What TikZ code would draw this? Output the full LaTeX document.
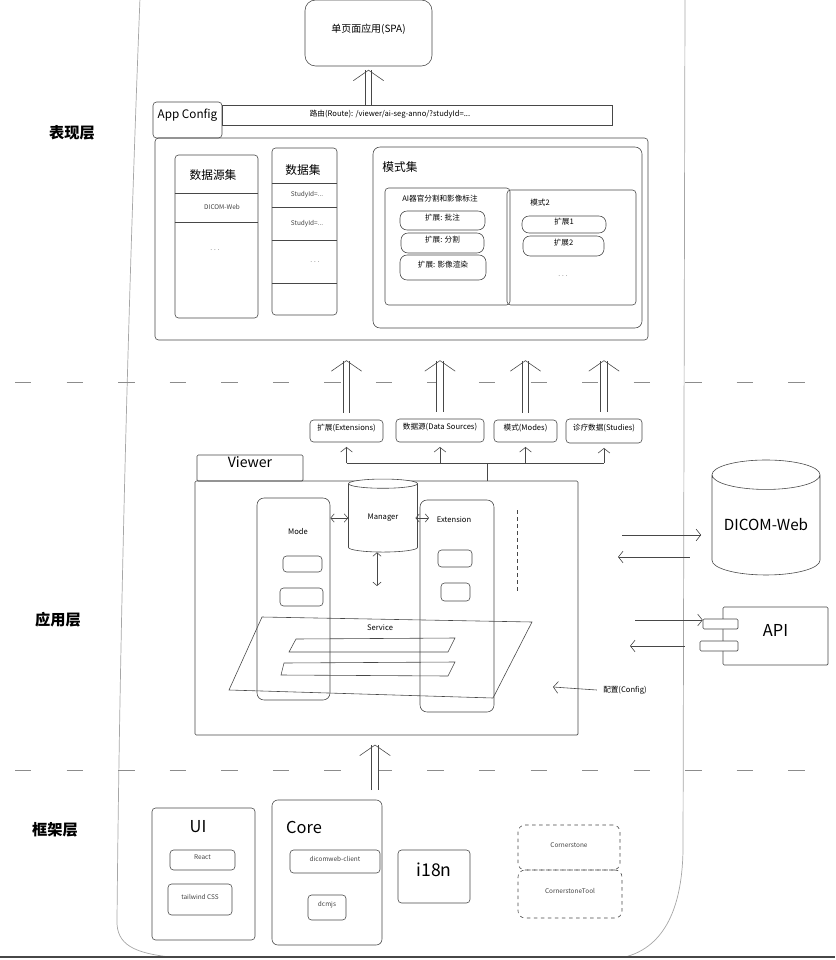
\documentclass[tikz,border=0pt]{standalone}
\usepackage{fontspec}
\setmainfont{Noto Sans CJK SC}
\usetikzlibrary{arrows.meta,positioning,shapes.geometric,fit,calc}

\begin{document}
\begin{tikzpicture}[
		x=0.03cm, y=-0.03cm,
		ln/.style = {draw=black!72, line width=0.5pt},
		frame/.style = {draw=black!35, line width=0.6pt},
		band/.style = {draw=black!45, line width=0.6pt, dash pattern=on 14pt off 30pt},
		box/.style = {ln, rounded corners=3pt, inner sep=0pt},
		pill/.style = {box, rounded corners=6pt},
		dbox/.style = {box, rounded corners=6pt, dashed},
		arr/.style = {ln, -{Straight Barb[length=4pt,width=10pt]}},
		arrs/.style = {ln, {Straight Barb[length=3pt,width=7pt]}-{Straight Barb[length=3pt,width=7pt]}},
		hollow/.style = {draw=black!72, line width=0.5pt, double=white, double distance=5pt, -{Straight Barb[length=9pt,width=26pt,line width=0.5pt]}},
		layertx/.style = {font=\bfseries\fontsize{13}{15}\selectfont},
		ttltx/.style = {font=\fontsize{10}{12}\selectfont},
		lbl/.style = {font=\fontsize{6.5}{8}\selectfont},
		note/.style = {font=\fontsize{5.5}{7}\selectfont, text=black!75},
		bigtx/.style = {font=\fontsize{14}{16}\selectfont},
	]
	\useasboundingbox (0,0) rectangle (835,960);

	\draw[frame] (140,-2) .. controls (130,250) and (120,600) .. (117,920) .. controls (116,945) and (135,953) .. (170,957);
	\draw[frame] (685,-2) -- (683,850) .. controls (682,915) and (660,948) .. (625,957);
	\draw[band] (15,382) -- (835,382);
	\draw[band] (15,770) -- (835,770);
	\draw[ln, line width=1.2pt] (0,957) -- (835,957);

	\node[layertx] (lpres) at (72,133) {表现层};
	\node[layertx] (lapp) at (58,620) {应用层};
	\node[layertx] (lfw) at (55,830) {框架层};

	% presentation
	\node[box, rounded corners=9pt, fit={(305,0)(432,66)}, font=\fontsize{8.5}{10}\selectfont] (spa) {单页面应用(SPA)};
	\node[box, fit={(153,102)(222,138)}, ttltx] (appcfg) {App Config};
	\node[box, rounded corners=0pt, fit={(222,105)(612,125)}] (route) {};
	\node[lbl] (routetx) at (390,114) {路由(Route): /viewer/ai-seg-anno/?studyId=...};
	\draw[hollow, shorten >=3pt] (route.north -| spa.south) -- (spa.south);
	\node[box, fit={(155,138)(648,340)}] (cfg) {};

	\node[box, fit={(175,155)(258,318)}] (dsrc) {};
	\node[ttltx] at (213,175) {数据源集};
	\foreach \yy in {193,222}
		\draw[ln] (dsrc.west |- 0,\yy) -- (dsrc.east |- 0,\yy);
	\node[note] at (222,207) {DICOM-Web};
	\node[note] at (215,250) {. . .};

	\node[box, fit={(272,148)(337,315)}] (dset) {};
	\node[ttltx] at (303,170) {数据集};
	\foreach \yy in {183,207,240,283}
		\draw[ln] (dset.west |- 0,\yy) -- (dset.east |- 0,\yy);
	\node[note] at (307,195) {StudyId=...};
	\node[note] at (307,224) {StudyId=...};
	\node[note] at (315,262) {. . .};

	\node[box, rounded corners=6pt, fit={(373,147)(642,328)}] (modes) {};
	\node[ttltx] at (400,167) {模式集};
	\node[box, fit={(385,188)(510,305)}] (modeA) {};
	\node[lbl] at (440,199) {AI器官分割和影像标注};
	\node[pill, fit={(400,211)(485,230)}, lbl] (extA1) {扩展: 批注};
	\node[pill, fit={(401,233)(484,253)}, lbl] (extA2) {扩展: 分割};
	\node[pill, fit={(400,255)(486,280)}, lbl] (extA3) {扩展: 影像渲染};
	\node[box, fit={(507,190)(636,305)}] (modeB) {};
	\node[lbl] at (540,203) {模式2};
	\node[pill, fit={(522,216)(606,233)}, lbl] (extB1) {扩展1};
	\node[pill, fit={(523,236)(604,256)}, lbl] (extB2) {扩展2};
	\node[note] at (563,276) {. . .};

	\node[box, fit={(310,420)(383,442)}, lbl] (lext) {扩展(Extensions)};
	\node[box, fit={(396,419)(484,442)}, lbl] (lsrc) {数据源(Data Sources)};
	\node[box, fit={(494,420)(557,442)}, lbl] (lmod) {模式(Modes)};
	\node[box, fit={(566,419)(642,443)}, lbl] (lstu) {诊疗数据(Studies)};
	\foreach \n in {lext,lsrc,lmod,lstu}
		\draw[hollow] ([yshift=6pt]\n.north) -- ($(\n.north |- cfg.south)+(0,20)$);

	% application
	\node[box, rounded corners=1pt, fit={(197,455)(303,481)}, font=\fontsize{12}{14}\selectfont] (viewertab) {Viewer};
	\node[box, rounded corners=1pt, fit={(195,481)(578,735)}] (viewer) {};

	\coordinate (busJ) at (487,463);
	\draw[ln] (lext.south |- busJ) -- (lstu.south |- busJ);
	\foreach \n in {lext,lsrc,lmod,lstu}
		\draw[arr] (\n.south |- busJ) -- ([yshift=-4pt]\n.south);
	\draw[ln] (busJ) -- (busJ |- viewer.north);

	\node[box, rounded corners=6pt, fit={(257,498)(330,700)}] (mode) {};
	\node[lbl] at (298,532) {Mode};
	\node[box, fit={(283,556)(322,572)}] (modeS1) {};
	\node[box, fit={(280,588)(323,606)}] (modeS2) {};
	\node[box, rounded corners=6pt, fit={(420,500)(494,712)}] (ext) {};
	\node[lbl] at (454,520) {Extension};
	\node[box, fit={(438,550)(472,567)}] (extS1) {};
	\node[box, fit={(441,583)(470,601)}] (extS2) {};
	\node[cylinder, shape border rotate=90, aspect=0.3, ln, fill=white, inner sep=0pt,
		minimum width=2.07cm, minimum height=2.19cm, lbl] (mgr) at (383,518) {Manager};
	\draw[arrs] (mgr.west -| mode.east) -- (mgr.west);
	\draw[arrs] ([xshift=-2pt]mgr.east) -- ([xshift=8pt]mgr.east -| ext.west);
	\coordinate (svclink) at (377,586);
	\draw[arrs] (mgr.south -| svclink) -- (svclink);

	\draw[ln] (262,617) -- (532,622) -- (493,698) -- (229,690) -- cycle;
	\node[lbl] (svc) at (380,628) {Service};
	\draw[ln] (296,639) -- (455,638) -- (448,652) -- (289,652) -- cycle;
	\draw[ln] (284,663) -- (455,662) -- (448,676) -- (281,675) -- cycle;
	\draw[ln, dashed] (517,510) -- (517,592);

	\node[lbl] (cfgtx) at (625,690) {配置(Config)};
	\coordinate (cfgtip) at (553,687);
	\draw[arr] ([xshift=-2pt]cfgtx.west) -- (cfgtip);

	\node[cylinder, shape border rotate=90, aspect=0.35, ln, inner sep=0pt,
		minimum width=3.24cm, minimum height=3.45cm, font=\fontsize{13}{15}\selectfont] (dicom) at (766,525) {DICOM-Web};
	\node[box, rounded corners=1pt, fit={(723,607)(828,665)}, bigtx] (api) {API};
	\node[box, rounded corners=1pt, fill=white, fit={(703,619)(738,629)}] (apiP1) {};
	\node[box, rounded corners=1pt, fill=white, fit={(700,641)(738,651)}] (apiP2) {};

	\coordinate (outD) at (622,535);
	\coordinate (inD) at (618,557);
	\coordinate (outA) at (635,620);
	\coordinate (inA) at (630,646);
	\draw[arr, shorten >=9pt] (outD) -- (outD -| dicom.west);
	\draw[arr] ($(inD -| dicom.west)+(-22,0)$) -- (inD);
	\draw[arr] (outA) -- (outA -| apiP1.west);
	\draw[arr] ($(inA -| apiP2.west)+(-15,0)$) -- (inA);

	% framework
	\coordinate (fwup) at (375,790);
	\draw[hollow, shorten >=8pt] (fwup) -- (fwup |- viewer.south);

	\node[box, fit={(152,808)(255,940)}] (ui) {};
	\node[bigtx] at (198,827) {UI};
	\node[box, fit={(170,850)(235,870)}, note] (react) {React};
	\node[box, fit={(168,884)(232,915)}, note] (tw) {tailwind CSS};
	\node[box, rounded corners=5pt, fit={(272,800)(382,945)}] (core) {};
	\node[bigtx] at (304,827) {Core};
	\node[box, fit={(290,850)(380,873)}, note] (dwc) {dicomweb-client};
	\node[box, fit={(308,895)(346,920)}, note] (dcm) {dcmjs};
	\node[box, fit={(398,850)(470,903)}, font=\fontsize{15}{17}\selectfont] (i18n) {i18n};
	\node[dbox, fit={(518,825)(620,870)}, note] (cs) {Cornerstone};
	\node[dbox, fit={(518,870)(622,918)}, note] (cst) {CornerstoneTool};
\end{tikzpicture}
\end{document}
